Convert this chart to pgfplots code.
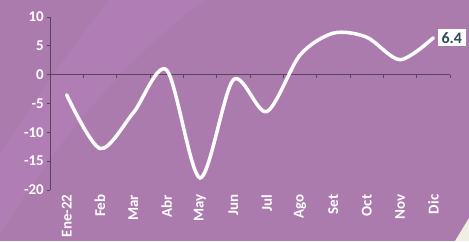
\documentclass[border=0pt]{standalone}
\usepackage{pgfplots}
\pgfplotsset{compat=1.18}
\usepackage{fontspec}
\setmainfont{Carlito}
\definecolor{bgpurple}{HTML}{AB7BAE}
\definecolor{bandpurple}{HTML}{B07EB4}
\definecolor{cream}{HTML}{EFEFE3}
\definecolor{axiscol}{HTML}{5B4260}
\definecolor{labeltext}{HTML}{2F4858}
\begin{document}
\begin{tikzpicture}[x=1bp,y=1bp]
\useasboundingbox (0,0) rectangle (469,241);
\fill[bgpurple] (0,0) rectangle (469,241);
\fill[bandpurple] (110,241) .. controls (75,200) and (35,140) .. (0,86) -- (0,6) .. controls (50,90) and (120,180) .. (205,241) -- cycle;
\fill[cream] (455,0) -- (469,0) -- (469,23) -- cycle;
\begin{axis}[
  at={(50bp,51bp)}, anchor=south west,
  scale only axis, width=400bp, height=173bp,
  xmin=0, xmax=12, ymin=-20, ymax=10,
  axis y line*=left, axis x line*=bottom,
  x axis line style={draw=none},
  xtick={0.5,1.5,...,11.5},
  xticklabels={Ene-22,Feb,Mar,Abr,May,Jun,Jul,Ago,Set,Oct,Nov,Dic},
  xtick style={draw=none},
  ytick={-20,-15,-10,-5,0,5,10},
  yticklabels={-20,-15,-10,-5,0,5,10},
  ytick style={axiscol, line width=0.8bp},
  y axis line style={axiscol, line width=0.8bp, -},
  tick align=outside, major tick length=3.5bp,
  ticklabel style={text=white, font=\bfseries\fontsize{15}{17}\selectfont},
  xticklabel style={rotate=90, anchor=east, inner sep=1bp},
  yticklabel style={inner sep=2.5bp},
  clip=false,
]
\draw[axiscol, line width=0.8bp] (axis cs:0,0) -- (axis cs:12,0);
\pgfplotsinvokeforeach{1,...,12}{\draw[axiscol, line width=0.8bp] (axis cs:#1,0) -- ([yshift=-3.5bp]axis cs:#1,0);}
\addplot[white, line width=3.5bp, smooth, line cap=round] coordinates {
(0.5,-3.5) (1.5,-12.8) (2.5,-6.6) (3.5,0.8) (4.5,-17.9) (5.5,-0.9)
(6.5,-6.4) (7.5,3.4) (8.5,7.2) (9.5,6.5) (10.5,2.6) (11.5,6.4)};
\node[fill=white, text=labeltext, anchor=west, inner xsep=4bp, inner ysep=3bp, xshift=4bp, font=\bfseries\fontsize{16}{18}\selectfont] at (axis cs:11.5,6.4) {6.4};
\end{axis}
\end{tikzpicture}
\end{document}
